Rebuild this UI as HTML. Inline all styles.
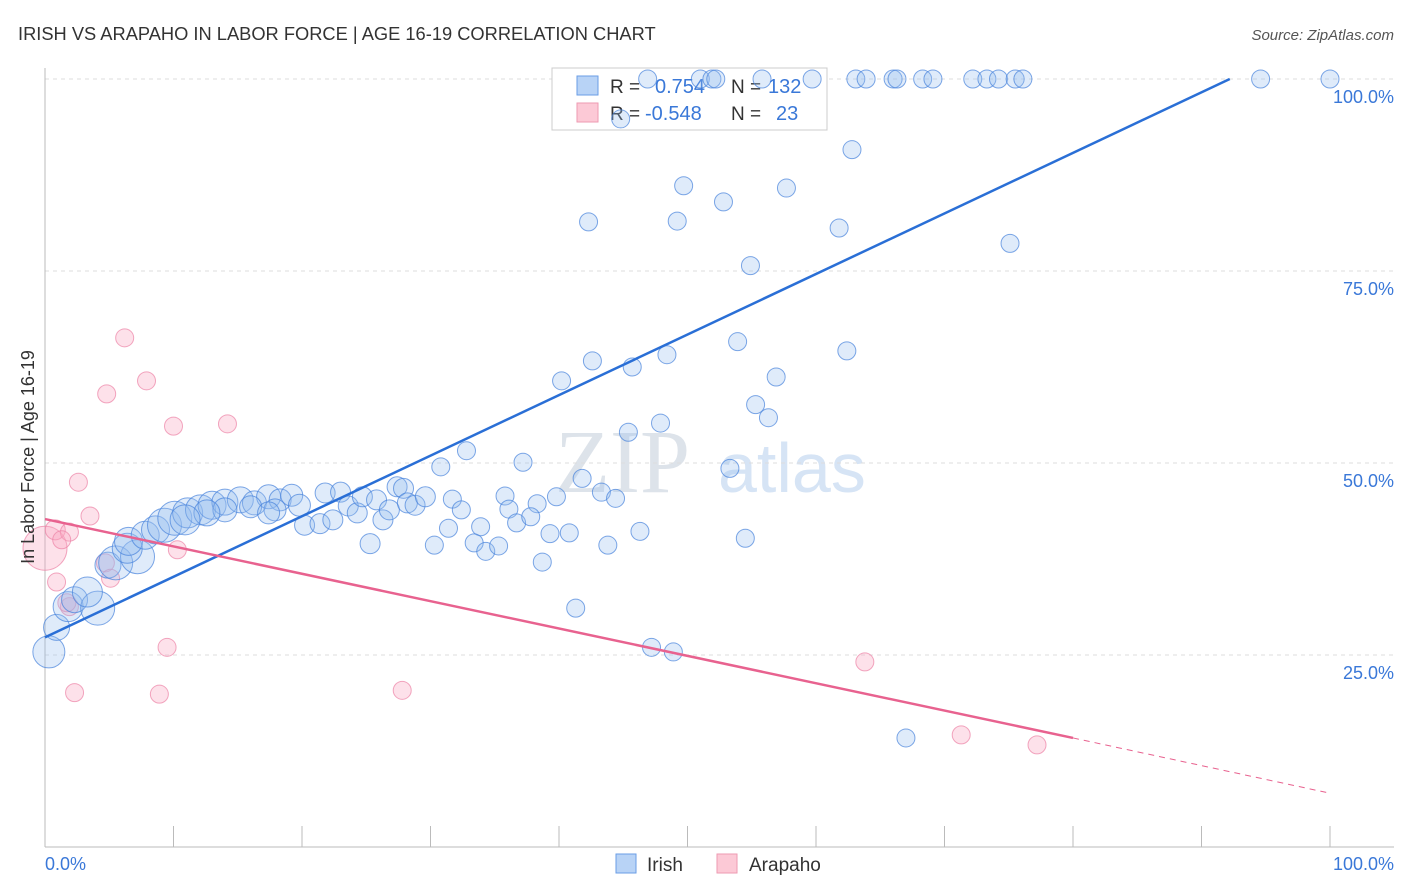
<!DOCTYPE html>
<html><head><meta charset="utf-8"><style>
body{margin:0;background:#fff;font-family:"Liberation Sans",sans-serif;}
svg{display:block}
</style></head><body>
<svg id="chart" width="1406" height="892">
<text x="18" y="40" font-size="18.3" fill="#333">IRISH VS ARAPAHO IN LABOR FORCE | AGE 16-19 CORRELATION CHART</text>
<text x="1394" y="40" font-size="15" fill="#555" font-style="italic" text-anchor="end">Source: ZipAtlas.com</text>
<text x="555" y="492" font-size="90" fill="#dde3ea" font-family="Liberation Serif">ZIP</text>
<text x="718" y="492" font-size="70" fill="#d6e4f5">atlas</text>
<g id="grid"></g><g id="axes"></g>
<g>
<rect x="552" y="68" width="275" height="62" fill="#fff" stroke="#ccc"/>
<rect x="577" y="76" width="21" height="19" fill="#b8d3f6" stroke="#6a9ee6"/>
<rect x="577" y="103" width="21" height="19" fill="#fcc9d6" stroke="#ee9ab2"/>
<text x="610" y="93" font-size="19" fill="#333">R = </text><text x="655" y="93" font-size="20" fill="#3a78d8">0.754</text>
<text x="731" y="93" font-size="19" fill="#333">N = </text><text x="768" y="93" font-size="20" fill="#3a78d8">132</text>
<text x="610" y="120" font-size="19" fill="#333">R = </text><text x="645" y="120" font-size="20" fill="#3a78d8">-0.548</text>
<text x="731" y="120" font-size="19" fill="#333">N = </text><text x="776" y="120" font-size="20" fill="#3a78d8">23</text>
</g>
<g id="marks"></g><g id="lines"></g>
<text x="34" y="457" font-size="18" fill="#333" text-anchor="middle" transform="rotate(-90 34 457)">In Labor Force | Age 16-19</text>
<text x="45" y="870" font-size="18" fill="#3a78d8">0.0%</text>
<text x="1394" y="870" font-size="18" fill="#3a78d8" text-anchor="end">100.0%</text>
<g>
<rect x="616" y="854" width="20" height="19" fill="#b8d3f6" stroke="#6a9ee6"/>
<text x="647" y="871" font-size="19" fill="#333">Irish</text>
<rect x="717" y="854" width="20" height="19" fill="#fcc9d6" stroke="#ee9ab2"/>
<text x="749" y="871" font-size="19" fill="#333">Arapaho</text>
</g>
</svg>
<script>
const yTicks=[25,50,75,100];
const yTickLabels=["25.0%","50.0%","75.0%","100.0%"];
const irishX=[46.9,51.0,51.9,52.2,55.8,59.7,63.1,63.9,66.0,66.3,68.3,69.1,72.2,73.3,74.2,75.5,76.1,94.6,100,44.8,62.8,49.7,57.7,52.8,42.3,49.2,61.8,75.1,54.9,53.9,62.4,42.6,48.4,45.7,40.2,56.9,55.3,56.3,47.9,45.4,32.8,37.2,30.8,53.3,41.8,43.3,44.4,39.8,35.8,38.3,36.1,36.7,37.8,31.7,32.4,31.4,33.9,30.3,33.4,34.3,35.3,39.3,40.8,43.8,46.3,38.7,54.5,41.3,47.2,48.9,67.0,0.3,0.9,1.8,2.3,4.1,3.3,4.9,5.5,7.2,6.4,6.5,7.8,8.6,9.3,10.1,11.1,12.1,13.0,14.0,15.2,16.3,17.4,18.3,19.2,19.8,17.9,16.0,14.0,12.6,10.9,17.4,20.2,21.4,22.4,21.8,23.0,23.6,24.3,24.7,25.8,26.3,25.3,26.8,27.4,27.9,28.2,28.8,29.6,29.2];
const irishY=[100,100,100,100,100,100,100,100,100,100,100,100,100,100,100,100,100,100,100,94.8,90.8,86.1,85.8,84.0,81.4,81.5,80.6,78.6,75.7,65.8,64.6,63.3,64.1,62.5,60.7,61.2,57.6,55.9,55.2,54.0,51.6,50.1,49.5,49.3,48.0,46.2,45.4,45.6,45.7,44.7,44.0,42.2,43.0,45.3,43.9,41.5,41.7,39.3,39.6,38.5,39.2,40.8,40.9,39.3,41.1,37.1,40.2,31.1,26.0,25.4,14.2,25.4,28.6,31.3,32.2,31.1,33.2,36.7,37.0,37.8,38.9,39.8,40.6,41.3,41.9,42.8,43.5,43.9,44.5,44.9,45.2,44.8,45.6,45.2,45.8,44.5,43.9,44.3,43.9,43.5,42.6,43.5,41.9,42.1,42.6,46.1,46.2,44.4,43.5,45.6,45.2,42.6,39.5,43.9,46.9,46.7,44.8,44.5,45.6,43.9];
const irishR=[9,9,9,9,9,9,9,9,9,9,9,9,9,9,9,9,9,9,9,9,9,9,9,9,9,9,9,9,9,9,9,9,9,9,9,9,9,9,9,9,9,9,9,9,9,9,9,9,9,9,9,9,9,9,9,9,9,9,9,9,9,9,9,9,9,9,9,9,9,9,9,16,13,15,13,17,15,13,17,17,15,14,14,14,17,17,15,15,14,13,13,12,12,11,11,11,11,11,12,13,15,11,10,10,10,10,10,10,10,10,10,10,10,10,10,10,10,10,10];
const arapahoX=[0,0.8,1.9,1.3,2.6,3.5,0.9,1.9,1.7,4.7,5.1,6.2,7.9,4.8,10.0,14.2,10.3,9.5,2.3,8.9,27.8,63.8,71.3,77.2];
const arapahoY=[38.9,41.3,41.0,40.0,47.5,43.1,34.5,31.3,31.8,37.0,35.0,66.3,60.7,59.0,54.8,55.1,38.7,26.0,20.1,19.9,20.4,24.1,14.6,13.3];
const arapahoR=[22,10,9,9,9,9,9,9,9,9,9,9,9,9,9,9,9,9,9,9,9,9,9,9];
const irishTrend=[[0,27.3],[92.2,100]];
const arapahoTrend=[[0,42.7],[80,14.2],[100,7.0]];
const NS="http://www.w3.org/2000/svg";
const X0=45,X1=1330,Y0=847,Y100=79;
const sx=v=>X0+(X1-X0)*v/100, sy=v=>Y0-(Y0-Y100)*v/100;
function mk(t,a,p){const e=document.createElementNS(NS,t);for(const k in a)e.setAttribute(k,a[k]);p.appendChild(e);return e;}
const grid=document.getElementById('grid'),axes=document.getElementById('axes'),marks=document.getElementById('marks'),lines=document.getElementById('lines');
yTicks.forEach((t,i)=>{
 const l=mk('line',{x1:X0,x2:1394,y1:sy(t),y2:sy(t),stroke:'#ddd','stroke-dasharray':'4,4'},grid);
 
 
 const tx=mk('text',{x:1394,y:sy(t)+24,'font-size':18,fill:'#3a78d8','text-anchor':'end'},grid);
 tx.textContent=yTickLabels[i];
 
 
});
const ax=mk('line',{x1:X0,x2:X0,y1:68,y2:Y0,stroke:'#bbb'},axes);


const bx=mk('line',{x1:X0,x2:1394,y1:Y0,y2:Y0,stroke:'#bbb'},axes);


for(let i=1;i<=10;i++){
 const t=mk('line',{x1:sx(i*10),x2:sx(i*10),y1:826,y2:Y0,stroke:'#bbb'},axes);
 
 
}
arapahoX.forEach((v,i)=>{
 const c=mk('circle',{cx:sx(v),cy:sy(arapahoY[i]),r:arapahoR[i],fill:'rgba(248,170,195,0.35)',stroke:'rgba(236,130,165,0.7)','stroke-width':1},marks);
 
 
});
irishX.forEach((v,i)=>{
 const c=mk('circle',{cx:sx(v),cy:sy(irishY[i]),r:irishR[i],fill:'rgba(150,190,240,0.3)',stroke:'rgba(70,130,220,0.7)','stroke-width':1},marks);
 
 
});
const bl=mk('line',{x1:sx(irishTrend[0][0]),y1:sy(irishTrend[0][1]),x2:sx(irishTrend[1][0]),y2:sy(irishTrend[1][1]),stroke:'#2a6fd6','stroke-width':2.5},lines);


const pl=mk('line',{x1:sx(arapahoTrend[0][0]),y1:sy(arapahoTrend[0][1]),x2:sx(arapahoTrend[1][0]),y2:sy(arapahoTrend[1][1]),stroke:'#e8628f','stroke-width':2.5},lines);


const pd=mk('line',{x1:sx(arapahoTrend[1][0]),y1:sy(arapahoTrend[1][1]),x2:sx(arapahoTrend[2][0]),y2:sy(arapahoTrend[2][1]),stroke:'#e8628f','stroke-width':1,'stroke-dasharray':'6,5'},lines);


</script>
</body></html>
